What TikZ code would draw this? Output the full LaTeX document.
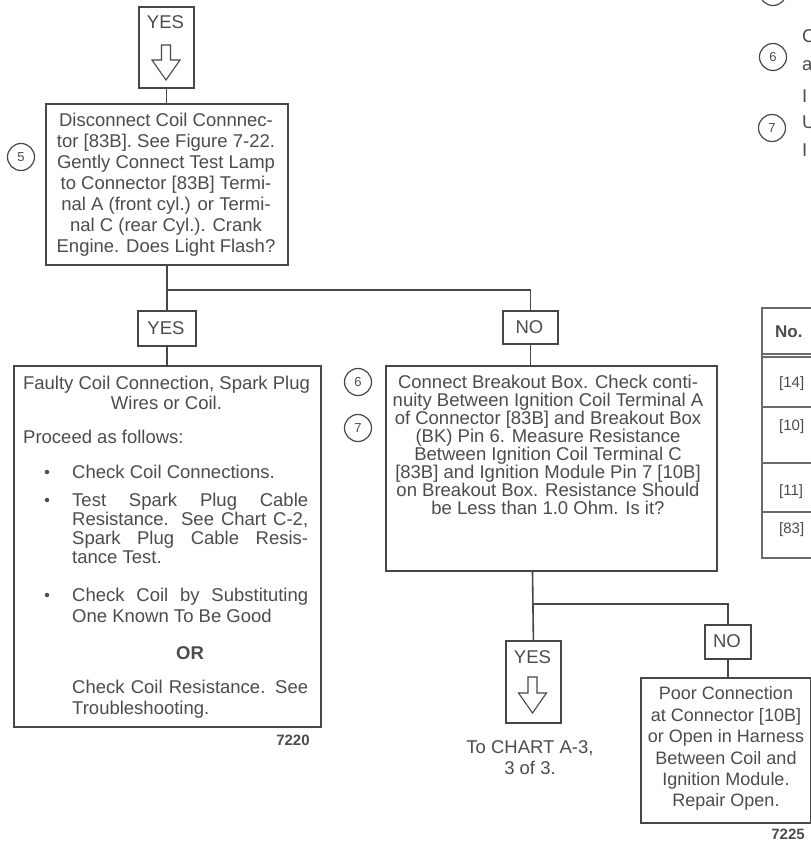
\documentclass[tikz,border=0pt]{standalone}
\usepackage{fontspec}
\setmainfont{Liberation Sans}
\definecolor{linec}{HTML}{474747}
\definecolor{txtc}{HTML}{4c4c4c}
\newcommand\mytop{\rule{0pt}{14pt}}
\begin{document}
\begin{tikzpicture}[x=1pt,y=-1pt,
  ln/.style={draw=linec, line width=1.6pt},
  bx/.style={draw=linec, line width=1.8pt, fill=white, inner sep=0, anchor=north west},
  tx/.style={text=txtc, font=\fontsize{18.5}{20}\selectfont, inner sep=0},
  num/.style={circle, draw=linec, line width=1.2pt, minimum size=27pt, inner sep=0, text=txtc, font=\fontsize{13}{13}\selectfont},
  harrow/.style={draw=linec, line width=1.1pt, fill=white, line join=miter},
  bul/.style={circle, fill=txtc, minimum size=4.5pt, inner sep=0},
  tbl/.style={draw=linec!80, line width=1.1pt},
  fig/.style={text=txtc, font=\fontsize{15}{15}\selectfont\bfseries, inner sep=0}
]
\useasboundingbox (0,0) rectangle (811,841);
\clip (0,0) rectangle (811,841);
\fill[white] (0,0) rectangle (811,841);

% ---------- top YES box ----------
\node[bx, minimum width=55pt, minimum height=81pt] (yes0) at (138,6) {};
\node[tx, anchor=base] (yes0t) at (165.5,28.5) {YES};
\begin{scope}[shift={(166,45)}]
  \draw[harrow] (-4.5,0) -- (4.5,0) -- (4.5,15) -- (14,15) -- (0,35) -- (-14,15) -- (-4.5,15) -- cycle;
\end{scope}

% ---------- step 5 ----------
\node[bx, minimum width=242pt, minimum height=161pt] (s5) at (45,103) {};
\node[tx, anchor=north, align=center, font=\fontsize{18.5}{21}\selectfont] (s5t) at (166,112.6)
 {\mytop Disconnect Coil Connnec-\\tor [83B]. See Figure 7-22.\\Gently Connect Test Lamp\\to Connector [83B] Termi-\\nal A (front cyl.) or Termi-\\nal C (rear Cyl.). Crank\\Engine. Does Light Flash?};
\node[num] (c5) at (21,157) {5};

% ---------- branch 1 ----------
\node[bx, minimum width=58pt, minimum height=35pt] (yes1) at (137,310) {};
\node[tx, anchor=base] (yes1t) at (166,334) {YES};
\node[bx, minimum width=55pt, minimum height=33pt] (no1) at (502,310) {};
\node[tx, anchor=base] (no1t) at (529.5,333) {NO};
\coordinate (b1) at (166,290);

% ---------- left result box ----------
\node[bx, minimum width=307pt, minimum height=361pt] (left) at (13,365) {};
\node[tx, anchor=north, align=center] (lt1) at (166.5,375.6)
 {\mytop Faulty Coil Connection, Spark Plug\\Wires or Coil.};
\node[tx, anchor=base west] (lt2) at (23,443.7) {Proceed as follows:};
\node[bul] (bu1) at (47,472) {};
\node[bul] (bu2) at (47,500) {};
\node[bul] (bu3) at (47,595) {};
\node[tx, anchor=base west] (lt3) at (72,478.7) {Check Coil Connections.};
\node[tx, anchor=north west, align=left, font=\fontsize{18.5}{19}\selectfont] (lt4) at (72,492.6)
 {\mytop\makebox[236pt][s]{Test Spark Plug Cable}\\\makebox[236pt][s]{Resistance. See Chart C-2,}\\\makebox[236pt][s]{Spark Plug Cable Resis-}\\tance Test.};
\node[tx, anchor=north west, align=left, font=\fontsize{18.5}{21}\selectfont] (lt5) at (72,587.6)
 {\mytop\makebox[236pt][s]{Check Coil by Substituting}\\One Known To Be Good};
\node[tx, anchor=base, font=\fontsize{18.5}{20}\selectfont\bfseries] (lt6) at (190,659.7) {OR};
\node[tx, anchor=north west, align=left, font=\fontsize{18.5}{21}\selectfont] (lt7) at (72,679.6)
 {\mytop\makebox[236pt][s]{Check Coil Resistance. See}\\Troubleshooting.};
\node[fig, anchor=base] (f1) at (293,745) {7220};

% ---------- middle box ----------
\node[bx, minimum width=331pt, minimum height=205pt] (mid) at (385,365) {};
\node[tx, anchor=north, align=center, font=\fontsize{18.5}{18}\selectfont] (midt) at (548,374.6)
 {\mytop Connect Breakout Box. Check conti-\\nuity Between Ignition Coil Terminal A\\of Connector [83B] and Breakout Box\\(BK) Pin 6. Measure Resistance\\Between Ignition Coil Terminal C\\{[83B]} and Ignition Module Pin 7 [10B]\\on Breakout Box. Resistance Should\\be Less than 1.0 Ohm. Is it?};
\node[num] (c6) at (358,382) {6};
\node[num] (c7) at (358,428) {7};

% ---------- branch 2 ----------
\coordinate (b3) at (532.5,604);
\node[bx, minimum width=55pt, minimum height=82pt] (yes2) at (505,640) {};
\node[tx, anchor=base] (yes2t) at (532.5,663.5) {YES};
\begin{scope}[shift={(532.5,677)}]
  \draw[harrow] (-4.5,0) -- (4.5,0) -- (4.5,16) -- (14,16) -- (0,36) -- (-14,16) -- (-4.5,16) -- cycle;
\end{scope}
\node[tx, anchor=north, align=center, font=\fontsize{18.5}{21}\selectfont] (chart) at (530,739.6)
 {\mytop To CHART A-3,\\3 of 3.};
\node[bx, minimum width=46pt, minimum height=34pt] (no2) at (704,624) {};
\node[tx, anchor=base] (no2t) at (727,647.5) {NO};
\node[bx, minimum width=170pt, minimum height=145pt] (pr) at (640,677) {};
\node[tx, anchor=north, align=center, font=\fontsize{18}{21.4}\selectfont] (prt) at (726,685.6)
 {\mytop Poor Connection\\at Connector [10B]\\or Open in Harness\\Between Coil and\\Ignition Module.\\Repair Open.};
\node[fig, anchor=base] (f2) at (788,839) {7225};

% ---------- connectors ----------
\draw[ln] (yes0.south) -- (yes0.south |- s5.north);
\draw[ln] (s5.south) -- (yes1.north);
\draw[ln] (b1) -| (no1.north);
\draw[ln] (yes1.south) -- (yes1.south |- left.north);
\draw[ln] (no1.south) -- (no1.south |- mid.north);
\draw[ln] (mid.south -| b3) -- (yes2.north);
\draw[ln] (b3) -| (no2.north);
\draw[ln] (no2.south) -- (no2.south |- pr.north);

% ---------- right edge (cut off) ----------
\node[num] (c4r) at (773,-8) {};
\node[num] (c6r) at (773,57) {6};
\node[num] (c7r) at (772,128) {7};
\node[tx, anchor=west] (r1) at (802,36) {C};
\node[tx, anchor=west] (r2) at (802,66) {a};
\node[tx, anchor=west] (r3) at (802,96) {I};
\node[tx, anchor=west] (r4) at (802,122) {U};
\node[tx, anchor=west] (r5) at (802,150) {I};

% table
\draw[tbl] (830,308) -- (762,308) -- (762,558) -- (830,558);
\draw[tbl] (762,354) -- (830,354);
\draw[tbl] (762,357) -- (830,357);
\draw[tbl] (762,407) -- (830,407);
\draw[tbl] (762,463) -- (830,463);
\draw[tbl] (762,512) -- (830,512);
\node[tx, anchor=base west, font=\fontsize{17}{17}\selectfont\bfseries] (tno) at (775,337) {No.};
\node[tx, anchor=base west, font=\fontsize{15}{15}\selectfont] (t14) at (779,387) {[14]};
\node[tx, anchor=base west, font=\fontsize{15}{15}\selectfont] (t10) at (779,430) {[10]};
\node[tx, anchor=base west, font=\fontsize{15}{15}\selectfont] (t11) at (779,495) {[11]};
\node[tx, anchor=base west, font=\fontsize{15}{15}\selectfont] (t83) at (779,533) {[83]};
\end{tikzpicture}
\end{document}
